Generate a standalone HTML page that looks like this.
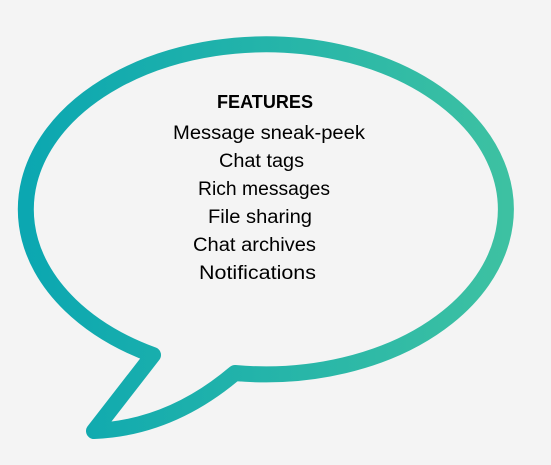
<!DOCTYPE html>
<html><head><meta charset="utf-8"><style>
html,body{margin:0;padding:0;background:#f4f4f4;}
svg{display:block}
text{font-family:"Liberation Sans",sans-serif;fill:#000;}
</style></head><body>
<svg width="551" height="465" viewBox="0 0 551 465">
<defs><linearGradient id="g" x1="0" y1="0" x2="1" y2="0">
<stop offset="0" stop-color="#0ba7b1"/><stop offset="1" stop-color="#3dc1a2"/></linearGradient></defs>
<rect width="551" height="465" fill="#f4f4f4"/>
<path d="M235,373 A240,165 0 1 0 153,355 L94,431 Q170,428 235,373 Z" fill="none" stroke="url(#g)" stroke-width="16" stroke-linejoin="round"/>
<text x="217" y="108" font-size="18" font-weight="bold" textLength="96" lengthAdjust="spacingAndGlyphs">FEATURES</text>
<text x="173" y="139" font-size="19" textLength="192" lengthAdjust="spacingAndGlyphs">Message sneak-peek</text>
<text x="219" y="167" font-size="19" textLength="85" lengthAdjust="spacingAndGlyphs">Chat tags</text>
<text x="198" y="195" font-size="19" textLength="132" lengthAdjust="spacingAndGlyphs">Rich messages</text>
<text x="208" y="223" font-size="19" textLength="104" lengthAdjust="spacingAndGlyphs">File sharing</text>
<text x="193" y="251" font-size="19" textLength="123" lengthAdjust="spacingAndGlyphs">Chat archives</text>
<text x="199" y="279" font-size="19" textLength="117" lengthAdjust="spacingAndGlyphs">Notifications</text>
</svg>
</body></html>
